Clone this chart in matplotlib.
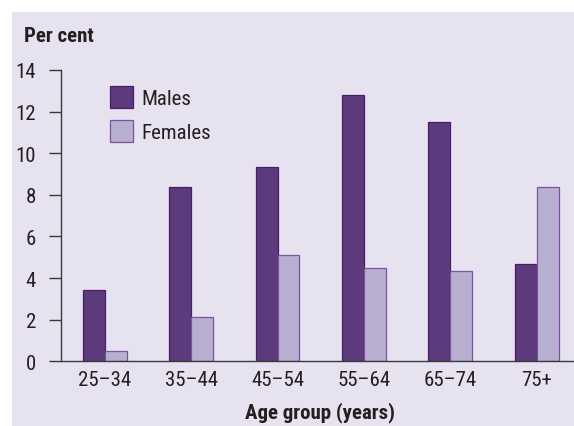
import matplotlib
matplotlib.use("Agg")
import matplotlib.pyplot as plt
from matplotlib import font_manager
import numpy as np

categories = ["25–34", "35–44", "45–54", "55–64", "65–74", "75+"]
males = [3.43, 8.37, 9.36, 12.82, 11.49, 4.66]
females = [0.51, 2.11, 5.09, 4.47, 4.33, 8.38]
yticks = [0, 2, 4, 6, 8, 10, 12, 14]

flist = font_manager.fontManager.ttflist
names = {f.name for f in flist}
fam = None
stretch = "normal"
for cand in ["Roboto Condensed", "Liberation Sans Narrow", "Open Sans Condensed", "Noto Sans Condensed"]:
    if cand in names:
        fam = cand
        break
if fam is None:
    cond = [f for f in flist if f.name == "DejaVu Sans" and "Condensed" in f.fname]
    fam = "DejaVu Sans"
    if cond:
        stretch = "condensed"
plt.rcParams['font.family'] = [fam, 'DejaVu Sans']
plt.rcParams['font.stretch'] = stretch

male_c = "#5c3b7c"
male_e = "#4a1c70"
fem_c = "#b9afd0"
fem_e = "#7b52a0"
bg = "#e6e2ef"
txt = "#231f20"
fs = 15

W, H = 574, 427
fig = plt.figure(figsize=(W/100, H/100), dpi=100)
fig.patch.set_facecolor("white")
bgax = fig.add_axes([12/W, 0, 1 - 12/W, (H-13)/H])
bgax.set_axis_off()
bgax.add_patch(plt.Rectangle((0, 0), 1, 1, transform=bgax.transAxes, facecolor=bg, edgecolor="none"))
bgax.set_zorder(0)

ax = fig.add_axes([61/W, (H-362.3)/H, 1 - 61/W, (362.3-71)/H])
ax.set_zorder(1)
ax.set_facecolor("none")
x = np.arange(len(categories))
bw = 0.254
ax.bar(x - bw/2, males, bw, color=male_c, edgecolor=male_e, linewidth=0.9, label="Males")
ax.bar(x + bw/2, females, bw, color=fem_c, edgecolor=fem_e, linewidth=0.9, label="Females")
ax.set_xlim(-0.505, 5.43)
ax.set_ylim(0, 14)
ax.set_yticks(yticks)
ax.set_xticks(x)
ax.set_xticklabels(categories)
for s in ["top", "right"]:
    ax.spines[s].set_visible(False)
for s in ["left", "bottom"]:
    ax.spines[s].set_color("#3a3a3a")
    ax.spines[s].set_linewidth(1.0)
ax.tick_params(axis="y", length=9, width=1.0, color="#3a3a3a", pad=9, labelsize=fs, labelcolor=txt)
ax.tick_params(axis="x", length=0, pad=6, labelsize=fs, labelcolor=txt)

leg = ax.legend(loc="upper left", bbox_to_anchor=(0.08, 0.975), frameon=False,
                fontsize=fs, handlelength=1.1, handleheight=1.3, labelspacing=0.55,
                handletextpad=0.4, borderaxespad=0)
for t in leg.get_texts():
    t.set_color(txt)

fig.text(24/W, 1 - 36/H, "Per cent", fontsize=fs, fontweight="bold", color=txt,
         ha="left", va="center")
fig.text(320/W, 1 - 413/H, "Age group (years)", fontsize=fs, fontweight="bold", color=txt,
         ha="center", va="center")

fig.savefig("out.png", dpi=100, facecolor=fig.get_facecolor())
